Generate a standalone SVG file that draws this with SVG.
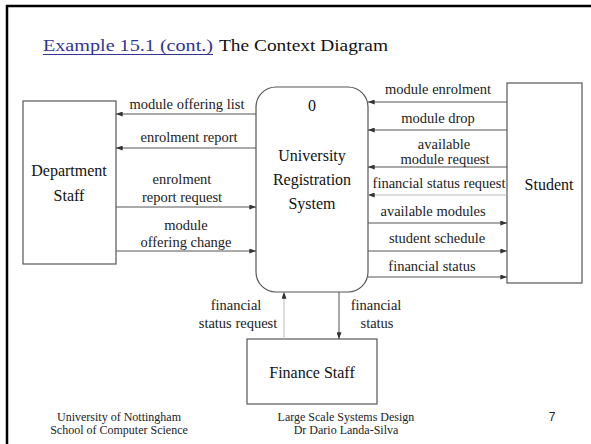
<svg xmlns="http://www.w3.org/2000/svg" width="591" height="444" viewBox="0 0 591 444">
<defs>
<style>
.box{fill:#fff;stroke:#555;stroke-width:1.2}
.flow{fill:none;stroke:#555;stroke-width:1;marker-end:url(#ah)}
.flow.light{stroke:#bbb}
.lbl{font-family:"Liberation Serif","Times New Roman",serif;font-size:14.5px;fill:#222;text-anchor:middle}
.node{font-family:"Liberation Serif","Times New Roman",serif;font-size:16px;fill:#111;text-anchor:middle}
.foot{font-family:"Liberation Serif","Times New Roman",serif;font-size:12px;fill:#222;text-anchor:middle}
.title{font-family:"Liberation Serif","Times New Roman",serif;font-size:17px}
</style>
<marker id="ah" viewBox="0 0 8 6" refX="8" refY="3" markerWidth="7" markerHeight="5" markerUnits="userSpaceOnUse" orient="auto">
<path d="M0,0 L8,3 L0,6 z" fill="#333"/>
</marker>
</defs>
<rect width="591" height="444" fill="#fff"/>
<g id="frame" stroke="#000" stroke-width="2.5">
<line x1="6" y1="6" x2="591" y2="6"/>
<line x1="7" y1="5" x2="7" y2="444"/>
</g>
<g id="title">
<text class="title" x="43" y="51" fill="#333399" textLength="170" lengthAdjust="spacingAndGlyphs">Example 15.1 (cont.)</text>
<line x1="43" y1="54.5" x2="213" y2="54.5" stroke="#333399" stroke-width="1"/>
<text class="title" x="219" y="51" fill="#111" textLength="169" lengthAdjust="spacingAndGlyphs">The Context Diagram</text>
</g>
<g id="process">
<rect class="box" x="256" y="87" width="112" height="205" rx="20" ry="20" stroke="#444"/>
<text class="node" x="312" y="111">0</text>
<text class="node" x="312" y="161">University</text>
<text class="node" x="312" y="185">Registration</text>
<text class="node" x="312" y="209">System</text>
</g>
<g id="department-staff">
<rect class="box" x="23" y="101" width="93" height="163"/>
<text class="node" x="69" y="176">Department</text>
<text class="node" x="69" y="201">Staff</text>
</g>
<g id="student">
<rect class="box" x="507" y="83" width="75" height="200"/>
<text class="node" x="549" y="190">Student</text>
</g>
<g id="finance-staff">
<rect class="box" x="247" y="339" width="130" height="65"/>
<text class="node" x="312" y="378">Finance Staff</text>
</g>
<g id="connectors">
<line class="flow" x1="256" y1="114" x2="116" y2="114"/>
<line class="flow" x1="256" y1="148" x2="116" y2="148"/>
<line class="flow" x1="116" y1="207" x2="256" y2="207"/>
<line class="flow" x1="116" y1="251" x2="256" y2="251"/>
<line class="flow" x1="507" y1="102" x2="368" y2="102"/>
<line class="flow" x1="507" y1="130" x2="368" y2="130"/>
<line class="flow" x1="507" y1="167" x2="368" y2="167"/>
<line class="flow light" x1="507" y1="195" x2="368" y2="195"/>
<line class="flow" x1="368" y1="223" x2="507" y2="223"/>
<line class="flow" x1="368" y1="251" x2="507" y2="251"/>
<line class="flow" x1="368" y1="277" x2="507" y2="277"/>
<line class="flow light" x1="284" y1="339" x2="284" y2="292"/>
<line class="flow" x1="339" y1="292" x2="339" y2="339"/>
</g>
<g id="labels">
<text class="lbl" x="187" y="109">module offering list</text>
<text class="lbl" x="189" y="142">enrolment report</text>
<text class="lbl" x="182" y="184">enrolment</text>
<text class="lbl" x="182" y="202">report request</text>
<text class="lbl" x="186" y="230">module</text>
<text class="lbl" x="186" y="247">offering change</text>
<text class="lbl" x="438" y="94">module enrolment</text>
<text class="lbl" x="438" y="123">module drop</text>
<text class="lbl" x="444" y="149">available</text>
<text class="lbl" x="445" y="164">module request</text>
<text class="lbl" x="439" y="188">financial status request</text>
<text class="lbl" x="433" y="216">available modules</text>
<text class="lbl" x="437" y="243">student schedule</text>
<text class="lbl" x="432" y="271">financial status</text>
<text class="lbl" x="236" y="310">financial</text>
<text class="lbl" x="238" y="328">status request</text>
<text class="lbl" x="376" y="310">financial</text>
<text class="lbl" x="377" y="328">status</text>
</g>
<g id="footer">
<text class="foot" x="119" y="421">University of Nottingham</text>
<text class="foot" x="119" y="434">School of Computer Science</text>
<text class="foot" x="346" y="421">Large Scale Systems Design</text>
<text class="foot" x="346" y="434">Dr Dario Landa-Silva</text>
<text x="552" y="421" font-family="Liberation Sans, Arial, sans-serif" font-size="12" fill="#222" text-anchor="middle">7</text>
</g>
</svg>
